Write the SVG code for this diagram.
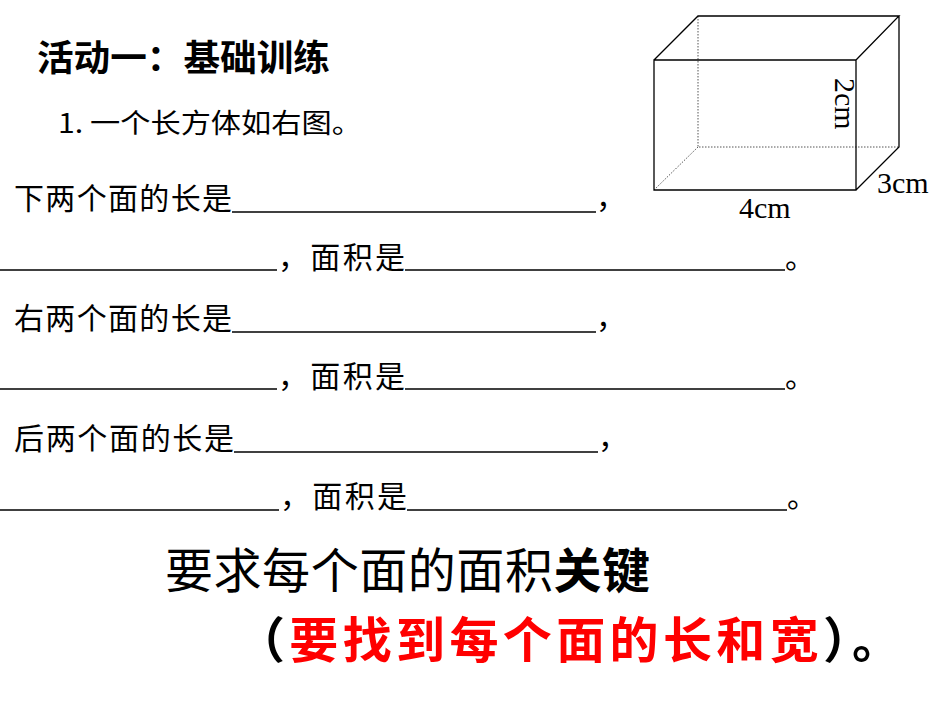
<svg xmlns="http://www.w3.org/2000/svg" width="950" height="713" viewBox="0 0 950 713">
<style>
.t{font-family:"Noto Sans CJK SC","Liberation Serif",serif;fill:#000}
.r{font-size:30px}
.u{stroke:#000;stroke-width:1.5}
.e{stroke:#000;stroke-width:1.3;fill:none}
.d{stroke:#555;stroke-width:1;stroke-dasharray:1.5 1.5;fill:none}
.m{font-family:"Liberation Serif",serif;font-size:30px}
</style>
<rect width="950" height="713" fill="#fff"/>
<g id="box">
<path class="d" d="M698 16V147H899M654 190L698 147"/>
<path class="e" d="M654 60H856V190H654Z M654 60L698 16H899L856 60 M899 16V147L856 190"/>
<text class="m" x="739" y="218">4cm</text>
<text class="m" x="877" y="193">3cm</text>
<text class="m" transform="translate(835,78) rotate(90)">2cm</text>
</g>
<g id="title"><text class="t" x="37" y="71" font-size="36" font-weight="bold" textLength="293" lengthAdjust="spacingAndGlyphs">活动一：基础训练</text></g>
<g id="q1"><text class="t" x="58" y="133" font-size="27" textLength="304" lengthAdjust="spacingAndGlyphs">1.  一个长方体如右图。</text></g>
<g id="rows">
<text class="t r" x="14" y="209" textLength="218">下两个面的长是</text><line class="u" x1="232" y1="212" x2="596" y2="212"/><text class="t r" x="596" y="208">，</text>
<line class="u" x1="0" y1="270" x2="277" y2="270"/><text class="t r" x="278" y="268" textLength="127">，面积是</text><line class="u" x1="405" y1="270" x2="785" y2="270"/><text class="t r" x="785" y="268">。</text>
<text class="t r" x="14" y="329" textLength="218">右两个面的长是</text><line class="u" x1="232" y1="332" x2="596" y2="332"/><text class="t r" x="596" y="328">，</text>
<line class="u" x1="0" y1="389" x2="277" y2="389"/><text class="t r" x="278" y="387" textLength="127">，面积是</text><line class="u" x1="405" y1="389" x2="785" y2="389"/><text class="t r" x="785" y="387">。</text>
<text class="t r" x="14" y="449" textLength="220">后两个面的长是</text><line class="u" x1="234" y1="452" x2="598" y2="452"/><text class="t r" x="598" y="448">，</text>
<line class="u" x1="0" y1="510" x2="279" y2="510"/><text class="t r" x="280" y="507" textLength="127">，面积是</text><line class="u" x1="407" y1="510" x2="787" y2="510"/><text class="t r" x="787" y="507">。</text>
</g>
<g id="key"><text class="t" x="165" y="588" font-size="48" textLength="485">要求每个面的面积<tspan font-weight="bold">关键</tspan></text></g>
<g id="hint"><text class="t" x="236" y="658" font-size="49" font-weight="bold" textLength="665">（<tspan fill="#f00">要找到每个面的长和宽</tspan>）。</text></g>
</svg>
